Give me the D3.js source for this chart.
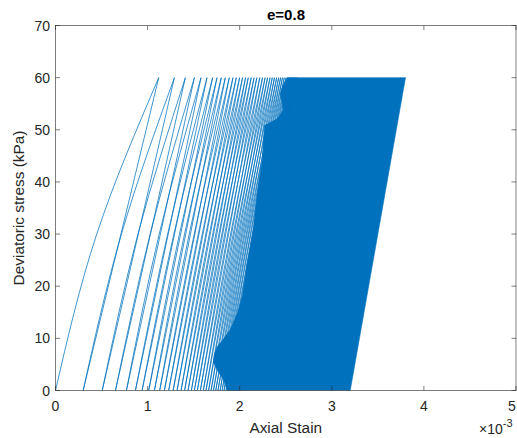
<!DOCTYPE html>
<html>
<head>
<meta charset="utf-8">
<script src="https://cdn.jsdelivr.net/npm/d3@7"></script>
<style>
  body { margin: 0; background: #fff; }
  text { font-family: "Liberation Sans", Arial, Helvetica, sans-serif; fill: #262626; }
</style>
</head>
<body>
<svg id="chart" width="517" height="438"></svg>
<script>
// Cyclic triaxial loading, e = 0.8. Strains are in units of 1e-3.
// Strain at 0 kPa where each loading branch starts (last entry = end of last drawn unloading)
const startStrain = [0.000, 0.300, 0.507, 0.651, 0.770, 0.868, 0.940, 1.012, 1.074, 1.131,
  1.182, 1.229, 1.277, 1.320, 1.363, 1.402, 1.439, 1.475, 1.508, 1.540,
  1.573, 1.605, 1.634, 1.662, 1.689, 1.715, 1.740, 1.764, 1.787, 1.809,
  1.830, 1.851, 1.871, 1.890, 1.909, 1.927, 1.945, 1.962, 1.979, 1.995, 2.011];
// Strain at 30 kPa on each loading branch
const midStrain = [0.448, 0.716, 0.895, 1.028, 1.126, 1.218, 1.285, 1.346, 1.401, 1.452,
  1.506, 1.550, 1.593, 1.632, 1.670, 1.707, 1.740, 1.774, 1.806, 1.837,
  1.870, 1.901, 1.929, 1.957, 1.983, 2.009, 2.033, 2.057, 2.080, 2.101,
  2.122, 2.142, 2.162, 2.180, 2.198, 2.217, 2.234, 2.251, 2.268, 2.284];
// Strain at the 60 kPa peak of each cycle
const peakStrain = [1.121, 1.291, 1.410, 1.508, 1.580, 1.645, 1.706, 1.754, 1.800, 1.844,
  1.887, 1.927, 1.963, 1.999, 2.031, 2.064, 2.093, 2.125, 2.156, 2.186,
  2.218, 2.248, 2.276, 2.303, 2.329, 2.354, 2.378, 2.401, 2.423, 2.444,
  2.464, 2.484, 2.503, 2.521, 2.539, 2.557, 2.574, 2.591, 2.607, 2.623];
const peakStress = 60;
const midStress = 30;

// Later cycles overlap into a solid band: its left edge (top to bottom) and the final cycle
const bandEdgeStrain = [2.516, 2.470, 2.440, 2.460, 2.473, 2.400, 2.270, 2.256, 2.245, 2.215, 2.191, 2.170, 2.150, 2.118, 2.082, 2.055, 2.028, 1.975, 1.898, 1.820, 1.757, 1.725, 1.714, 1.760, 1.822, 1.866];
const bandEdgeStress = [60.0, 58.5, 57.0, 55.3, 53.7, 52.0, 50.8, 47.5, 44.2, 41.0, 37.9, 34.5, 31.0, 27.8, 24.5, 21.2, 18.0, 14.8, 11.7, 9.8, 8.4, 7.0, 5.4, 3.8, 2.1, 0.0];
const finalStartStrain = 3.20;
const finalPeakStrain = 3.80;

const xTicks = [0, 1, 2, 3, 4, 5];
const yTicks = [0, 10, 20, 30, 40, 50, 60, 70];

const blue = "#0072BD";
const axisColor = "#262626";

const svg = d3.select("#chart");
const L = 55.5, R = 516, T = 25.5, B = 390.5;
const x = d3.scaleLinear().domain([0, 5]).range([L, R]);
const y = d3.scaleLinear().domain([0, 70]).range([B, T]);

svg.append("defs").append("clipPath").attr("id", "plotClip")
  .append("rect").attr("x", L).attr("y", T).attr("width", R - L).attr("height", B - T);

const plot = svg.append("g").attr("clip-path", "url(#plotClip)");

// solid band of the densely packed cycles
const bandPts = bandEdgeStrain.map((s, i) => [s, bandEdgeStress[i]]);
bandPts.push([finalStartStrain, 0], [finalPeakStrain, peakStress]);
plot.append("path")
  .attr("d", d3.line().x(d => x(d[0])).y(d => y(d[1]))(bandPts) + "Z")
  .attr("fill", blue).attr("stroke", blue).attr("stroke-width", 0.6);

// individual loading / unloading branches
const loadLine = d3.line().x(d => x(d[0])).y(d => y(d[1])).curve(d3.curveNatural);
const straight = d3.line().x(d => x(d[0])).y(d => y(d[1]));
peakStrain.forEach((p, i) => {
  plot.append("path")
    .attr("d", loadLine([[startStrain[i], 0], [midStrain[i], midStress], [p, peakStress]]))
    .attr("fill", "none").attr("stroke", blue).attr("stroke-width", 0.75);
  plot.append("path")
    .attr("d", straight([[p, peakStress], [startStrain[i + 1], 0]]))
    .attr("fill", "none").attr("stroke", blue).attr("stroke-width", 0.75);
});

// axes box with inward ticks on all sides
const ax = svg.append("g").attr("stroke", axisColor).attr("stroke-width", 0.6).attr("fill", "none");
ax.append("rect").attr("x", L).attr("y", T).attr("width", R - L).attr("height", B - T);
const tl = 4.5;
xTicks.forEach(t => {
  ax.append("line").attr("x1", x(t)).attr("x2", x(t)).attr("y1", B).attr("y2", B - tl);
  ax.append("line").attr("x1", x(t)).attr("x2", x(t)).attr("y1", T).attr("y2", T + tl);
});
yTicks.forEach(t => {
  ax.append("line").attr("x1", L).attr("x2", L + tl).attr("y1", y(t)).attr("y2", y(t));
  ax.append("line").attr("x1", R).attr("x2", R - tl).attr("y1", y(t)).attr("y2", y(t));
});

// tick labels (the last one is kept inside the page edge)
svg.append("g").selectAll("text").data(xTicks).join("text")
  .attr("x", d => Math.min(x(d), 512)).attr("y", 411).attr("text-anchor", "middle")
  .attr("font-size", 14).text(d => d);
svg.append("g").selectAll("text").data(yTicks).join("text")
  .attr("x", 50).attr("y", d => y(d) + 5).attr("text-anchor", "end")
  .attr("font-size", 14).text(d => d);

// exponent of the x axis
const ex = svg.append("text").attr("x", 479).attr("y", 434).attr("font-size", 14);
ex.append("tspan").text("\u00d710");
ex.append("tspan").attr("dy", -7).attr("font-size", 11).text("-3");

// axis titles
svg.append("text").attr("x", (L + R) / 2).attr("y", 433).attr("text-anchor", "middle")
  .attr("font-size", 15.4).text("Axial Stain");
svg.append("text").attr("transform", `translate(24,${(T + B) / 2}) rotate(-90)`)
  .attr("text-anchor", "middle").attr("font-size", 15.4).text("Deviatoric stress (kPa)");
svg.append("text").attr("x", 286).attr("y", 20).attr("text-anchor", "middle")
  .attr("font-size", 15).attr("font-weight", "bold").style("fill", "#000").text("e=0.8");
</script>
</body>
</html>
